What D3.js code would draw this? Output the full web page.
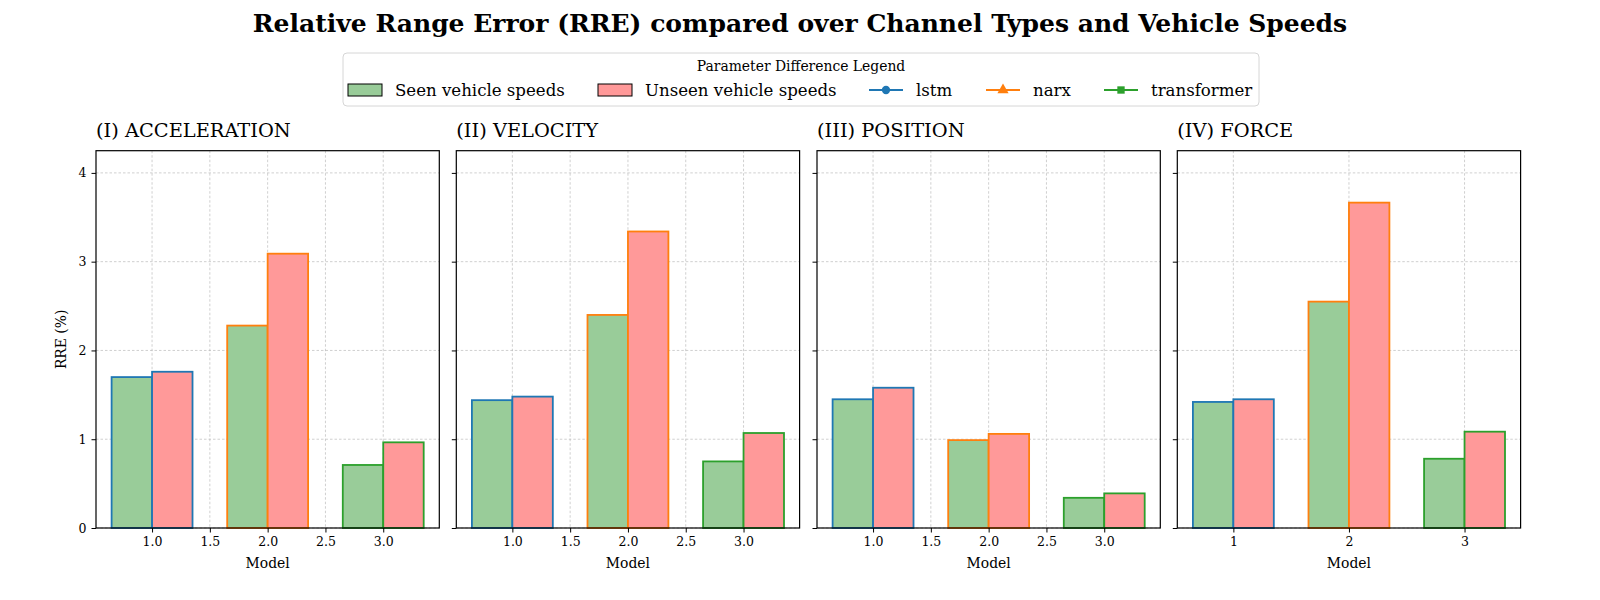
<!DOCTYPE html>
<html>
<head>
<meta charset="utf-8">
<script src="https://cdn.jsdelivr.net/npm/d3@7"></script>
<style>
  body { margin: 0; background: #fff; }
  text { font-family: "DejaVu Serif", serif; fill: #000; }
</style>
</head>
<body>
<div id="vis"></div>
<script>
// ---------------- data ----------------
const models = [1, 2, 3];
const modelNames = ["lstm", "narx", "transformer"];
const modelColors = ["#1f77b4", "#ff7f0e", "#2ca02c"];
const modelMarkers = ["circle", "triangle", "square"];
const channels = ["(I) ACCELERATION", "(II) VELOCITY", "(III) POSITION", "(IV) FORCE"];
const seenRRE = [
  [1.70, 2.28, 0.71],
  [1.44, 2.40, 0.75],
  [1.45, 0.99, 0.34],
  [1.42, 2.55, 0.78]
];
const unseenRRE = [
  [1.76, 3.09, 0.965],
  [1.48, 3.34, 1.07],
  [1.58, 1.06, 0.39],
  [1.45, 3.665, 1.085]
];
const yTicks = [0, 1, 2, 3, 4];
const xTicksHalf = [1.0, 1.5, 2.0, 2.5, 3.0];
const xTicksInt = [1, 2, 3];

// ---------------- layout ----------------
const W = 1600, H = 600;
const axW = 343.3, axTop = 150.7, axBottom = 528;
const axLefts = [96, 456.3, 817, 1177.3];
const barW = 0.35;
const seenFill = "#99cc99", unseenFill = "#ff9999";
const serif = "DejaVu Serif";

const svg = d3.select("#vis").append("svg")
  .attr("width", W).attr("height", H);

svg.append("text")
  .attr("x", 800).attr("y", 31.5)
  .attr("text-anchor", "middle").attr("font-family", serif)
  .attr("font-size", 25).attr("font-weight", "bold")
  .text("Relative Range Error (RRE) compared over Channel Types and Vehicle Speeds");

// ---------------- legend ----------------
const lg = svg.append("g");
lg.append("rect")
  .attr("x", 343).attr("y", 53).attr("width", 916).attr("height", 53)
  .attr("rx", 4).attr("fill", "#fff").attr("stroke", "#d6d6d6");
lg.append("text").attr("x", 801).attr("y", 71)
  .attr("text-anchor", "middle").attr("font-size", 13.9).attr("font-family", serif)
  .text("Parameter Difference Legend");

const itemY = 90;
const patches = [
  { x: 348, fill: seenFill, label: "Seen vehicle speeds", tx: 395 },
  { x: 598, fill: unseenFill, label: "Unseen vehicle speeds", tx: 645 }
];
patches.forEach(p => {
  lg.append("rect").attr("x", p.x).attr("y", itemY - 6).attr("width", 34).attr("height", 12)
    .attr("fill", p.fill).attr("stroke", "#000").attr("stroke-width", 1);
  lg.append("text").attr("x", p.tx).attr("y", itemY + 5.5).attr("font-size", 16.6)
    .attr("font-family", serif).text(p.label);
});
const lineXs = [869, 986, 1104];
modelNames.forEach((m, i) => {
  const x0 = lineXs[i];
  lg.append("line").attr("x1", x0).attr("x2", x0 + 34).attr("y1", itemY).attr("y2", itemY)
    .attr("stroke", modelColors[i]).attr("stroke-width", 2);
  const sym = modelMarkers[i] === "circle" ? d3.symbolCircle
    : modelMarkers[i] === "triangle" ? d3.symbolTriangle : d3.symbolSquare;
  lg.append("path").attr("d", d3.symbol(sym, 54)())
    .attr("transform", `translate(${x0 + 17},${itemY})`)
    .attr("fill", modelColors[i]);
  lg.append("text").attr("x", x0 + 47).attr("y", itemY + 5.5).attr("font-size", 16.6)
    .attr("font-family", serif).text(m);
});

// ---------------- panels ----------------
const y = d3.scaleLinear().domain([0, 4.25]).range([axBottom, axTop]);

channels.forEach((ch, ci) => {
  const left = axLefts[ci];
  const g = svg.append("g").attr("transform", `translate(${left},0)`);
  const x = d3.scaleLinear().domain([0.515, 3.485]).range([0, axW]);
  const xt = ci === 3 ? xTicksInt : xTicksHalf;

  // grid
  g.selectAll(".gx").data(xt).join("line")
    .attr("x1", d => x(d)).attr("x2", d => x(d))
    .attr("y1", axTop).attr("y2", axBottom)
    .attr("stroke", "#b0b0b0").attr("stroke-width", 0.6).attr("stroke-dasharray", "2.5,2");
  g.selectAll(".gy").data(yTicks).join("line")
    .attr("x1", 0).attr("x2", axW)
    .attr("y1", d => y(d)).attr("y2", d => y(d))
    .attr("stroke", "#b0b0b0").attr("stroke-width", 0.6).attr("stroke-dasharray", "2.5,2");

  // bars
  models.forEach((m, mi) => {
    g.append("rect")
      .attr("x", x(m - barW)).attr("width", x(m) - x(m - barW))
      .attr("y", y(seenRRE[ci][mi])).attr("height", y(0) - y(seenRRE[ci][mi]))
      .attr("fill", seenFill).attr("stroke", modelColors[mi]).attr("stroke-width", 1.8);
    g.append("rect")
      .attr("x", x(m)).attr("width", x(m + barW) - x(m))
      .attr("y", y(unseenRRE[ci][mi])).attr("height", y(0) - y(unseenRRE[ci][mi]))
      .attr("fill", unseenFill).attr("stroke", modelColors[mi]).attr("stroke-width", 1.8);
  });

  // axes
  const xAxis = d3.axisBottom(x).tickValues(xt).tickSize(4.5).tickPadding(4.5)
    .tickFormat(ci === 3 ? d3.format("d") : d3.format(".1f"));
  const gx = g.append("g").attr("transform", `translate(0,${axBottom})`).call(xAxis);
  const yAxis = d3.axisLeft(y).tickValues(yTicks).tickSize(4.5).tickPadding(5)
    .tickFormat(ci === 0 ? d3.format("d") : "");
  const gy = g.append("g").call(yAxis);
  [gx, gy].forEach(a => {
    a.select(".domain").remove();
    a.selectAll("text").attr("font-size", 12.5).attr("font-family", serif).attr("fill", "#000");
    a.selectAll("line").attr("stroke", "#000");
  });

  g.append("rect").attr("x", 0).attr("y", axTop).attr("width", axW).attr("height", axBottom - axTop)
    .attr("fill", "none").attr("stroke", "#000").attr("stroke-width", 1.2);

  g.append("text").attr("x", 0).attr("y", 136.5).attr("font-size", 19.4)
    .attr("font-family", serif).text(ch);
  g.append("text").attr("x", axW / 2).attr("y", 567.5).attr("text-anchor", "middle")
    .attr("font-size", 13.9).attr("font-family", serif).text("Model");
  if (ci === 0) {
    g.append("text").attr("transform", `translate(-30,${(axTop + axBottom) / 2}) rotate(-90)`)
      .attr("text-anchor", "middle").attr("font-size", 13.9).attr("font-family", serif)
      .text("RRE (%)");
  }
});
</script>
</body>
</html>
